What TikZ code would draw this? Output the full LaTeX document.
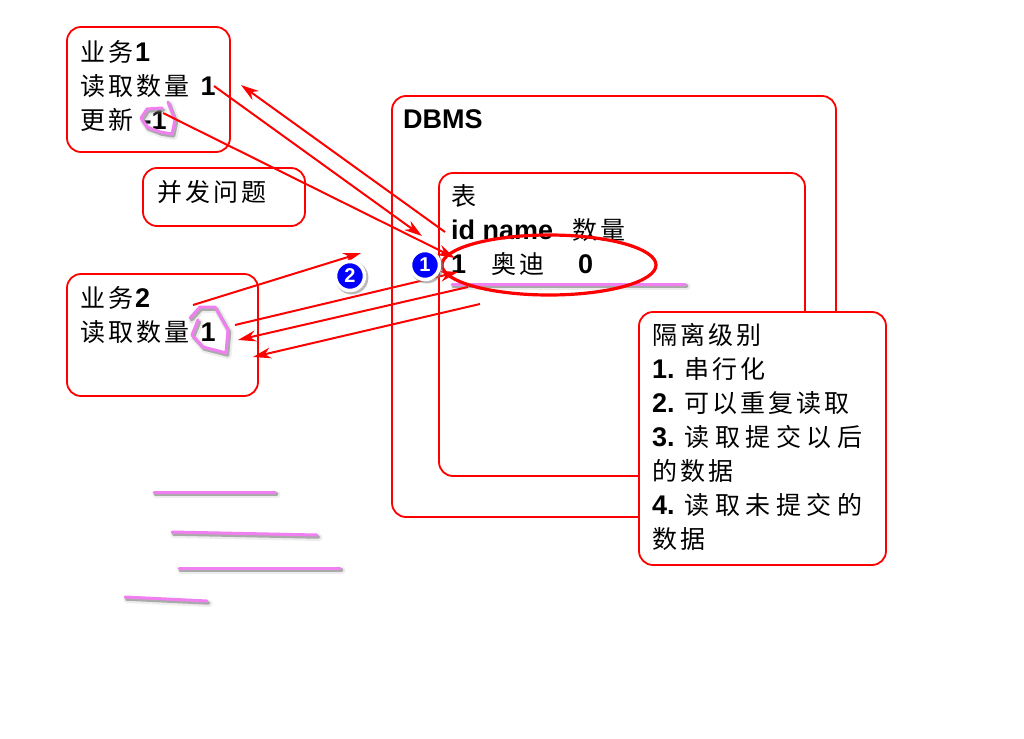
\documentclass[tikz,border=0pt]{standalone}
\usepackage{fontspec}
\usepackage{tikz}
\usetikzlibrary{arrows.meta,shadows}
\setmainfont{Liberation Sans}
\newfontfamily\cjk[LetterSpace=12]{Noto Sans CJK SC}
\newfontfamily\cjkwide[LetterSpace=22]{Noto Sans CJK SC}
\newcommand{\zh}[1]{{\mdseries\fontsize{25}{34}\cjk #1}}
\newcommand{\zhw}[1]{{\mdseries\fontsize{25}{34}\cjkwide #1}}
\definecolor{penpink}{HTML}{F080F0}
\tikzset{
	redbox/.style={draw=red,line width=1.8pt,rounded corners=14pt,inner sep=0pt,outer sep=0pt},
	boxtext/.style={anchor=north west,inner sep=0pt,align=left,font=\fontsize{27}{34}\selectfont\bfseries},
	redarrow/.style={draw=red,line width=2pt,-{Stealth[length=18pt,width=11pt]}},
	badge/.style={circle,fill=blue,draw=white,line width=3.5pt,inner sep=0pt,minimum size=29pt,text=white,
		font=\fontsize{20}{20}\selectfont\bfseries,drop shadow={fill=black!50,opacity=.55,shadow scale=1.15,shadow xshift=1.5pt,shadow yshift=-1.5pt}},
	penhalo/.style={draw=black!35,opacity=.2,line width=7pt,line cap=round,line join=round,shift={(2pt,-2.5pt)}},
	penshade/.style={draw=black!55,opacity=.55,line width=3.5pt,line cap=round,line join=round,shift={(1.5pt,-2pt)}},
	penstroke/.style={draw=penpink,line width=3pt,line cap=round,line join=round}
}
\begin{document}
\begin{tikzpicture}[x=1pt,y=-1pt]
	\useasboundingbox (0,0) rectangle (1024,738);
	\fill[white] (0,0) rectangle (1024,738);
	% boxes
	\node[redbox,minimum width=163pt,minimum height=125pt] (job1) at (148.5,89.5) {};
	\node[redbox,minimum width=162pt,minimum height=58pt] (issue) at (224,197) {};
	\node[redbox,minimum width=191pt,minimum height=122pt] (job2) at (162.5,335) {};
	\node[redbox,minimum width=444pt,minimum height=421pt] (dbms) at (614,306.5) {};
	\node[redbox,minimum width=366pt,minimum height=303pt] (tbl) at (622,324.5) {};
	% texts
	\node[boxtext] (job1text) at (80,40) {\zh{业务}\hspace{2pt}1\\\zh{读取数量} \hspace{4pt}1\\\zh{更新} \hspace{2pt}-1};
	\node[boxtext] (issuetext) at (157,180) {\zh{并发问题}};
	\node[boxtext] (job2text) at (80,286) {\zh{业务}\hspace{2pt}2\\\zh{读取数量} \hspace{4pt}1};
	\node[boxtext] (dbmstext) at (403,109) {DBMS};
	\node[boxtext] (tbltext) at (451,184.5) {\zh{表}\\id name\hspace{19pt}\zh{数量}\\1\hspace{25pt}\zh{奥迪}\hspace{34pt}0};
	% pen marks
	\foreach \sx/\sy/\ex/\ey in {154/492/275/492,172/532/317/535,179/568/340/568,125/597/207/601,452/284/685/284} {
		\draw[penhalo] (\sx,\sy)--(\ex,\ey);
		\draw[penshade] (\sx,\sy)--(\ex,\ey);
		\draw[penstroke] (\sx,\sy)--(\ex,\ey);
	}
	\foreach \mystyle in {penhalo,penshade,penstroke} {
		\draw[\mystyle] (168,102)--(175,120)--(172,134)--(160,132)--(147,127)--(141,118)--(147,109)--(162,108);
		\draw[\mystyle] (190,318)--(200,307)--(215,307)--(228,330)--(226,353)--(203,347)--(192,335)--(198,320);
	}
	% ends of the connectors
	\coordinate (rd1a) at (445,232);
	\coordinate (rd1b) at (241,85);
	\coordinate (rd1c) at (214,86);
	\coordinate (rd1d) at (422,236);
	\coordinate (up1a) at (163,113);
	\coordinate (up1b) at (455,258);
	\coordinate (rd2a) at (193,305);
	\coordinate (rd2b) at (361,253);
	\coordinate (rd2c) at (235,325);
	\coordinate (rd2d) at (458,272);
	\coordinate (up2a) at (468,287);
	\coordinate (up2b) at (238,340);
	\coordinate (up2c) at (480,304);
	\coordinate (up2d) at (253,357);
	\draw[redarrow] (rd1a)--(rd1b);
	\draw[redarrow] (rd1c)--(rd1d);
	\draw[redarrow] (up1a)--(up1b);
	\draw[redarrow] (rd2a)--(rd2b);
	\draw[redarrow] (rd2c)--(rd2d);
	\draw[redarrow] (up2a)--(up2b);
	\draw[redarrow] (up2c)--(up2d);
	% row mark
	\draw[red,line width=3.2pt] (549,265) ellipse (107pt and 30pt);
	\node[badge] (first) at (425,265) {1};
	\node[badge] (second) at (350,276) {2};
	% levels
	\node[redbox,fill=white,minimum width=247pt,minimum height=253pt] (levels) at (762.5,438.5) {};
	\node[boxtext] (levelstext) at (652,323) {\zh{隔离级别}\\1. \zh{串行化}\\2. \zh{可以重复读取}\\3. \zhw{读取提交以后}\\\zh{的数据}\\4. \zhw{读取未提交的}\\\zh{数据}};
\end{tikzpicture}
\end{document}
